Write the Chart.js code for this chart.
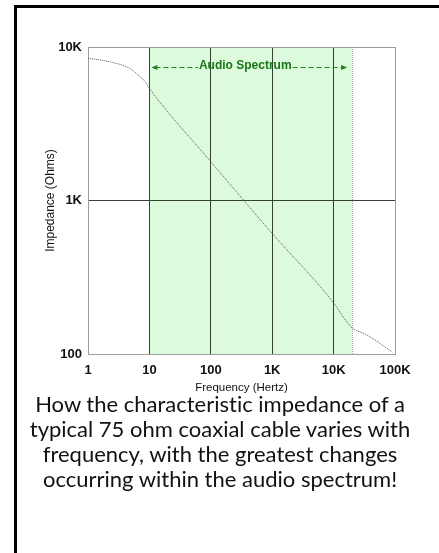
<!DOCTYPE html>
<html>
<head>
<meta charset="utf-8">
<script src="https://cdn.jsdelivr.net/npm/chart.js@4.4.1/dist/chart.umd.min.js"></script>
<style>
  body { margin: 0; background: #fff; width: 439px; height: 553px; overflow: hidden; position: relative; }
  #frame { position: absolute; left: 14px; top: 5px; width: 600px; height: 600px;
           border-left: 3px solid #000; border-top: 3px solid #000; }
  #chart { position: absolute; left: 0; top: 0; }
  #caption { position: absolute; left: 10px; width: 420px; top: 391px;
             font-family: Lato, "Open Sans", sans-serif; font-size: 22px; line-height: 25px;
             font-variant-ligatures: none; text-align: center; color: #111; white-space: nowrap; }
</style>
</head>
<body>
<div id="frame"></div>
<canvas id="chart" width="439" height="395"></canvas>
<div id="caption">How the characteristic impedance of a<br>typical 75 ohm coaxial cable varies with<br>frequency, with the greatest changes<br>occurring within the audio spectrum!</div>
<script>
// frequency (Hz) vs impedance (ohms)
const frequency = [1, 2.3, 4.8, 6.6, 8.5, 10, 100, 1000, 10000, 15000, 20000, 35000, 90000];
const impedance = [8450, 8000, 7250, 6550, 5950, 5380, 1790, 610, 215, 170, 148, 133, 103];

const xTicks = [1, 10, 100, 1000, 10000, 100000];
const xTickLabels = ['1', '10', '100', '1K', '10K', '100K'];
const yTicks = [100, 1000, 10000];
const yTickLabels = ['100', '1K', '10K'];

const audioBand = [10, 20000];
const audioLabel = 'Audio Spectrum';

const axisFont = "'Liberation Sans', Arial, sans-serif";

// green band behind the grid
const bandPlugin = {
    id: 'band',
    beforeDraw(chart) {
        const ctx = chart.ctx;
        const x = chart.scales.x, y = chart.scales.y;
        const x0 = x.getPixelForValue(audioBand[0]);
        const x1 = x.getPixelForValue(audioBand[1]);
        ctx.save();
        ctx.fillStyle = '#dcfadc';
        ctx.fillRect(x0, y.top, x1 - x0, y.bottom - y.top);
        // faint dotted right edge
        ctx.strokeStyle = '#9aa89a';
        ctx.setLineDash([1, 1]);
        ctx.beginPath();
        ctx.moveTo(x1 + 0.5, y.top);
        ctx.lineTo(x1 + 0.5, y.bottom);
        ctx.stroke();
        ctx.restore();
    },
    afterDatasetsDraw(chart) {
        const ctx = chart.ctx;
        const x = chart.scales.x, y = chart.scales.y;
        const x0 = x.getPixelForValue(audioBand[0]) + 2;
        const x1 = x.getPixelForValue(audioBand[1]) - 5;
        const ly = y.top + 20.5;
        const mid = (x0 + x1) / 2 - 4;
        ctx.save();
        ctx.font = 'bold 12px ' + axisFont;
        const tw = ctx.measureText(audioLabel).width;
        ctx.strokeStyle = '#247f24';
        ctx.fillStyle = '#247f24';
        ctx.lineWidth = 1;
        ctx.setLineDash([5, 3]);
        ctx.beginPath();
        ctx.moveTo(x0 + 4, ly);
        ctx.lineTo(mid - tw / 2 - 1, ly);
        ctx.moveTo(mid + tw / 2 + 1, ly);
        ctx.lineTo(x1 - 4, ly);
        ctx.stroke();
        ctx.setLineDash([]);
        // arrow heads
        ctx.beginPath();
        ctx.moveTo(x0, ly);
        ctx.lineTo(x0 + 6, ly - 2.5);
        ctx.lineTo(x0 + 6, ly + 2.5);
        ctx.closePath();
        ctx.moveTo(x1, ly);
        ctx.lineTo(x1 - 6, ly - 2.5);
        ctx.lineTo(x1 - 6, ly + 2.5);
        ctx.closePath();
        ctx.fill();
        ctx.fillStyle = '#1a761a';
        ctx.textAlign = 'center';
        ctx.textBaseline = 'middle';
        ctx.fillText(audioLabel, mid, ly - 1.5);
        ctx.restore();
    }
};

const gridColor = (ctx, darkTicks) => {
    const v = ctx.tick && ctx.tick.value;
    return darkTicks.includes(v) ? '#344234' : '#9c9c9c';
};

new Chart(document.getElementById('chart'), {
    type: 'scatter',
    data: {
        datasets: [{
            data: frequency.map((f, i) => ({x: f, y: impedance[i]})),
            showLine: true,
            borderColor: '#555',
            borderWidth: 1,
            borderDash: [1, 1],
            pointRadius: 0,
            cubicInterpolationMode: 'monotone'
        }]
    },
    options: {
        responsive: false,
        animation: false,
        layout: {padding: {left: 0, top: 47, right: 44, bottom: 0}},
        plugins: {legend: {display: false}, tooltip: {enabled: false}},
        scales: {
            x: {
                type: 'logarithmic',
                min: xTicks[0],
                max: xTicks[xTicks.length - 1],
                afterBuildTicks: s => { s.ticks = xTicks.map(v => ({value: v})); },
                afterFit: s => { s.height = 41; },
                border: {display: true, color: '#9c9c9c'},
                grid: {
                    drawTicks: false,
                    color: c => gridColor(c, [10, 100, 1000, 10000]),
                    lineWidth: 1
                },
                ticks: {
                    padding: 9,
                    color: '#111',
                    font: {family: axisFont, size: 13, weight: 'bold'},
                    maxRotation: 0,
                    autoSkip: false,
                    callback: (v) => xTickLabels[xTicks.indexOf(v)]
                },
                title: {
                    display: true,
                    text: 'Frequency (Hertz)',
                    color: '#111',
                    font: {family: axisFont, size: 11.5},
                    padding: {top: 0, bottom: 0}
                }
            },
            y: {
                type: 'logarithmic',
                min: yTicks[0],
                max: yTicks[yTicks.length - 1],
                afterBuildTicks: s => { s.ticks = yTicks.map(v => ({value: v})); },
                afterFit: s => { s.width = 88; },
                border: {display: true, color: '#9c9c9c'},
                grid: {
                    drawTicks: false,
                    color: c => gridColor(c, [1000]),
                    lineWidth: 1
                },
                ticks: {
                    padding: 6,
                    color: '#111',
                    font: {family: axisFont, size: 13, weight: 'bold'},
                    callback: (v) => yTickLabels[yTicks.indexOf(v)]
                },
                title: {
                    display: true,
                    text: 'Impedance (Ohms)',
                    color: '#111',
                    font: {family: axisFont, size: 12},
                    padding: {top: 43, bottom: 0}
                }
            }
        }
    },
    plugins: [bandPlugin]
});
</script>
</body>
</html>
